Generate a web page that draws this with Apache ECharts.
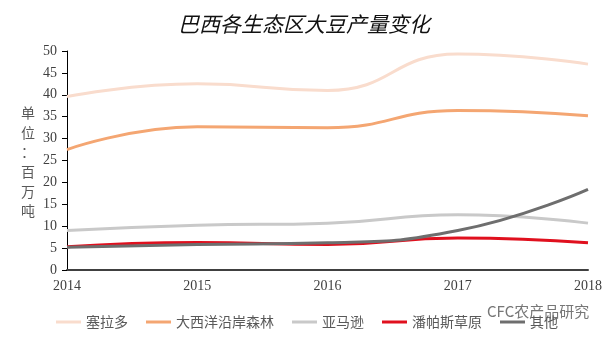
<!DOCTYPE html>
<html>
<head>
<meta charset="utf-8">
<script src="https://cdn.jsdelivr.net/npm/echarts@6/dist/echarts.min.js"></script>
<style>html,body{margin:0;padding:0;background:#fff;}#c{width:608px;height:341px;}</style>
</head>
<body>
<div id="c"></div>
<script>
var categories = ['2014', '2015', '2016', '2017', '2018'];
var yTicks = [0, 5, 10, 15, 20, 25, 30, 35, 40, 45, 50];
var seriesNames = ['塞拉多', '大西洋沿岸森林', '亚马逊', '潘帕斯草原', '其他'];
var cerrado = [39.6, 42.5, 41.0, 49.3, 47.0];
var atlantic = [27.5, 32.7, 32.5, 36.4, 35.2];
var amazon = [9.0, 10.2, 10.7, 12.6, 10.7];
var pampa = [5.3, 6.3, 5.8, 7.3, 6.2];
var other = [5.2, 5.8, 6.2, 9.0, 18.4];
var colors = ['#F9DCCD', '#F4A672', '#C9C9C9', '#E0101E', '#6E6E6E'];
var allData = [cerrado, atlantic, amazon, pampa, other];

var chart = echarts.init(document.getElementById('c'), null, {renderer: 'canvas'});
var serif = '"Liberation Serif", "DejaVu Serif", serif';
var cjk = '"Noto Sans CJK SC", sans-serif';

var series = seriesNames.map(function (n, i) {
  return {
    name: n, type: 'line', data: allData[i], smooth: true, symbol: 'none',
    lineStyle: {color: colors[i], width: 3}, itemStyle: {color: colors[i]}
  };
});

chart.setOption({
  animation: false,
  backgroundColor: '#fff',
  title: {
    text: '巴西各生态区大豆产量变化', left: 'center', top: 9,
    textStyle: {fontFamily: cjk, fontSize: 21, fontStyle: 'italic', fontWeight: 'normal', color: '#111'}
  },
  grid: {left: 67, right: 20, top: 51, bottom: 71},
  legend: {
    data: seriesNames, left: 56, top: 315, icon: 'rect', itemWidth: 25, itemHeight: 3,
    itemGap: 18, padding: 0,
    textStyle: {fontFamily: cjk, fontSize: 14, color: '#595959'}
  },
  xAxis: {
    type: 'category', data: categories, boundaryGap: false,
    axisLine: {show: true, lineStyle: {color: '#404040', width: 2}},
    axisTick: {show: false},
    axisLabel: {fontFamily: serif, fontSize: 14, color: '#404040', margin: 9}
  },
  yAxis: {
    type: 'value', min: yTicks[0], max: yTicks[yTicks.length - 1], interval: 5,
    splitLine: {show: false},
    axisLine: {show: true, lineStyle: {color: '#000', width: 1}},
    axisTick: {show: true, length: 5, lineStyle: {color: '#000'}},
    axisLabel: {fontFamily: serif, fontSize: 14, color: '#404040', margin: 10}
  },
  graphic: [
    {type: 'text', left: 21, top: 103, style: {text: '单\n位\n：\n百\n万\n吨', font: '14px ' + cjk, fill: '#595959', lineHeight: 19.6}},
    {type: 'text', left: 487, top: 304, style: {text: 'CFC农产品研究', font: '15px ' + cjk, fill: '#777777'}}
  ],
  series: series
});
</script>
</body>
</html>
